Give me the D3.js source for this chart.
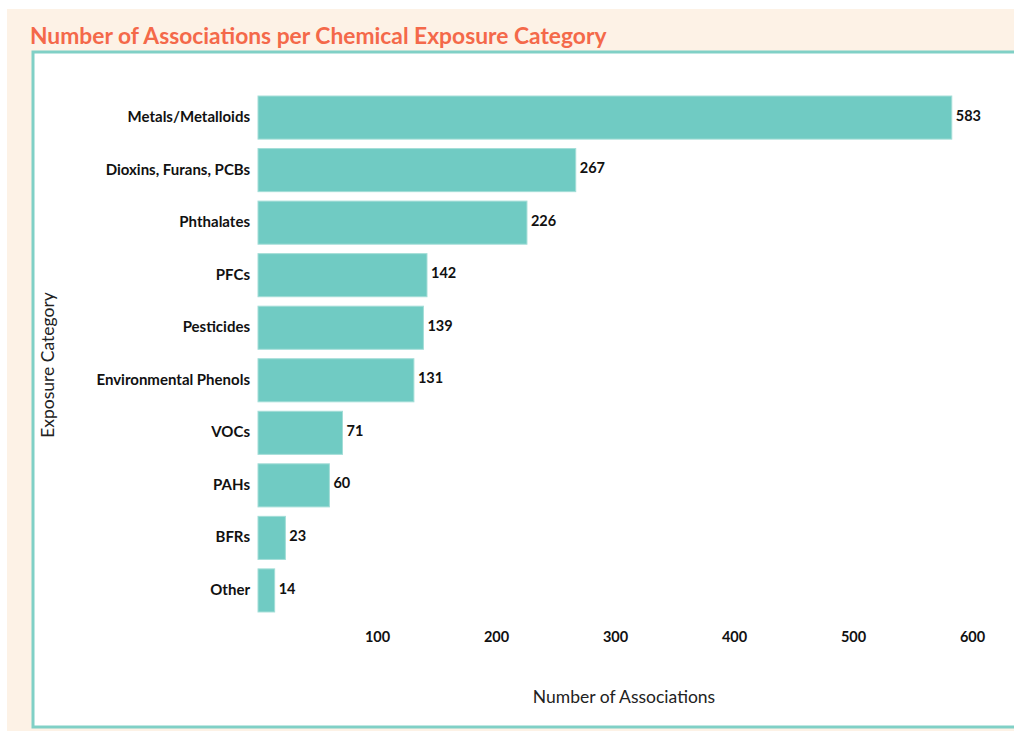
<!DOCTYPE html>
<html>
<head>
<meta charset="utf-8">
<script src="https://cdn.jsdelivr.net/npm/d3@7"></script>
<style>
  body { margin: 0; background: #fff; }
  svg { display: block; font-family: Lato, "Open Sans", sans-serif; }
</style>
</head>
<body>
<div id="chart"></div>
<script>
var categories = ["Metals/Metalloids", "Dioxins, Furans, PCBs", "Phthalates", "PFCs", "Pesticides",
    "Environmental  Phenols", "VOCs", "PAHs", "BFRs", "Other"];
var counts = [583, 267, 226, 142, 139, 131, 71, 60, 23, 14];
var xTicks = [100, 200, 300, 400, 500, 600];

var width = 1014, height = 731;

var data = categories.map(function (c, i) {
    return { name: c, value: counts[i] };
});

var svg = d3.select("#chart")
    .append("svg")
    .attr("width", width)
    .attr("height", height);

// cream page background
svg.append("rect")
    .attr("x", 7).attr("y", 9)
    .attr("width", width - 7).attr("height", height - 9)
    .attr("fill", "#fdf2e6");

// white panel with teal border
svg.append("rect")
    .attr("x", 33).attr("y", 52)
    .attr("width", width - 33 + 5).attr("height", 675)
    .attr("fill", "#fff")
    .attr("stroke", "#80d0c6")
    .attr("stroke-width", 3);

svg.append("text")
    .attr("x", 30).attr("y", 44)
    .attr("fill", "#f4694a")
    .attr("font-size", 22.8)
    .attr("font-weight", "bold")
    .text("Number of Associations per Chemical Exposure Category");

var x = d3.scaleLinear().domain([0, 600]).range([258, 972]);
var y = d3.scaleBand()
    .domain(categories)
    .range([91.3, 616.7])
    .paddingInner(0.18)
    .paddingOuter(0.09);

svg.append("g").selectAll("rect")
    .data(data)
    .enter()
    .append("rect")
    .attr("x", x(0))
    .attr("y", function (d) { return y(d.name) })
    .attr("width", function (d) { return x(d.value) - x(0) })
    .attr("height", y.bandwidth())
    .attr("fill", "#70cbc3")
    .attr("stroke", "#a3ddd7")
    .attr("stroke-width", 1);

// value labels
svg.append("g").selectAll("text")
    .data(data)
    .enter()
    .append("text")
    .attr("x", function (d) { return x(d.value) + 4 })
    .attr("y", function (d) { return y(d.name) + y.bandwidth() / 2 - 2 })
    .attr("dy", "0.35em")
    .attr("font-size", 14.5)
    .attr("font-weight", "bold")
    .attr("fill", "#111")
    .text(function (d) { return d.value });

// y axis (category names), no domain line or ticks
var yAxis = svg.append("g")
    .attr("transform", "translate(258,0)")
    .call(d3.axisLeft(y).tickSize(0).tickPadding(8));
yAxis.select(".domain").remove();
yAxis.selectAll("text")
    .attr("font-family", "Lato, 'Open Sans', sans-serif")
    .attr("font-size", 15)
    .attr("font-weight", "bold")
    .attr("fill", "#111")
    .attr("dy", "0.3em");

// x axis
var xAxis = svg.append("g")
    .attr("transform", "translate(0,630)")
    .call(d3.axisBottom(x).tickValues(xTicks).tickSize(0).tickPadding(2));
xAxis.select(".domain").remove();
xAxis.selectAll("text")
    .attr("font-family", "Lato, 'Open Sans', sans-serif")
    .attr("font-size", 14.5)
    .attr("font-weight", "bold")
    .attr("fill", "#111");

svg.append("text")
    .attr("x", 624).attr("y", 703)
    .attr("text-anchor", "middle")
    .attr("font-size", 17.5)
    .attr("fill", "#222")
    .text("Number of Associations");

svg.append("text")
    .attr("transform", "translate(54,365) rotate(-90)")
    .attr("text-anchor", "middle")
    .attr("font-size", 17.5)
    .attr("fill", "#222")
    .text("Exposure Category");
</script>
</body>
</html>
